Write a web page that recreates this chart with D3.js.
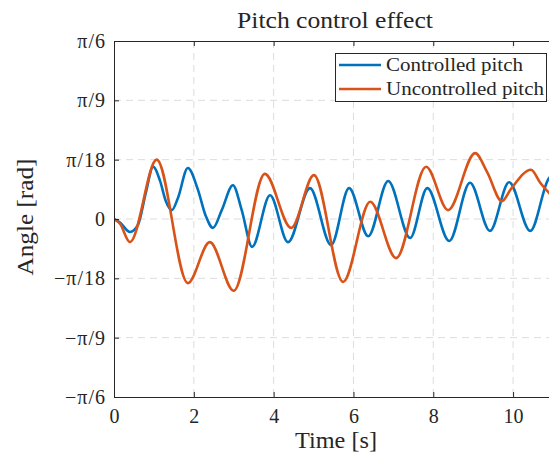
<!DOCTYPE html>
<html>
<head>
<meta charset="utf-8">
<script src="https://cdn.jsdelivr.net/npm/d3@7"></script>
<style>
  html, body { margin: 0; padding: 0; background: #fff; overflow: hidden; }
  svg { display: block; }
  text { font-family: "Liberation Serif", "DejaVu Serif", serif; fill: #262626; }
</style>
</head>
<body>
<svg id="chart" width="549" height="460"></svg>
<script>
// Pitch angle samples (time in s, angle in degrees)
const controlledT = [0, 0.15, 0.4, 0.6, 0.8, 0.98, 1.15, 1.3, 1.45, 1.6, 1.85, 2.1, 2.3, 2.48, 2.7, 2.98, 3.2, 3.46, 3.91, 4.36, 4.91, 5.44, 5.89, 6.37, 6.87, 7.42, 7.85, 8.4, 8.92, 9.42, 9.9, 10.43, 10.9, 11.0];
const controlledDeg = [0, -0.6, -2.2, -1.0, 4.5, 8.8, 6.5, 3.0, 1.5, 3.5, 8.6, 5.0, 0.5, -1.5, 1.5, 5.7, 1.5, -4.7, 4.0, -3.9, 5.2, -4.4, 5.2, -2.9, 6.4, -3.2, 5.2, -3.7, 6.1, -2.0, 6.2, -2.0, 6.9, 7.4];

const uncontrolledT = [0, 0.15, 0.4, 1.07, 1.85, 2.4, 3.0, 3.78, 4.44, 5.01, 5.74, 6.42, 7.07, 7.82, 8.37, 9.05, 9.35, 9.72, 9.95, 10.45, 10.68, 10.9, 11.0];
const uncontrolledDeg = [0, -0.8, -3.9, 10.0, -10.8, -3.9, -12.1, 7.6, -1.5, 7.4, -10.6, 2.9, -6.6, 8.8, 1.5, 11.1, 7.9, 3.0, 5.1, 8.3, 6.1, 4.4, 3.8];

const seriesNames = ["Controlled pitch", "Uncontrolled pitch"];
const seriesColors = ["#0072BD", "#D95319"];

const xTicks = [0, 2, 4, 6, 8, 10];
const yTickValues = [-Math.PI / 6, -Math.PI / 9, -Math.PI / 18, 0, Math.PI / 18, Math.PI / 9, Math.PI / 6];
const yTickLabels = ["\u2212\u03C0/6", "\u2212\u03C0/9", "\u2212\u03C0/18", "0", "\u03C0/18", "\u03C0/9", "\u03C0/6"];

const toRad = d => d * Math.PI / 180;
const controlled = controlledT.map((t, i) => ({ t, v: toRad(controlledDeg[i]) }));
const uncontrolled = uncontrolledT.map((t, i) => ({ t, v: toRad(uncontrolledDeg[i]) }));

const svg = d3.select("#chart");
const plotL = 114, plotR = 553, plotT = 41, plotB = 397;

const x = d3.scaleLinear().domain([0, 11]).range([plotL, plotR]);
const y = d3.scaleLinear().domain([-Math.PI / 6, Math.PI / 6]).range([plotB, plotT]);

// grid
const grid = svg.append("g");
grid.selectAll("line.vx").data(xTicks.slice(1)).join("line")
  .attr("x1", d => x(d)).attr("x2", d => x(d))
  .attr("y1", plotT).attr("y2", plotB)
  .attr("stroke", "#dcdcdc").attr("stroke-width", 1).attr("stroke-dasharray", "7,5");
grid.selectAll("line.hy").data(yTickValues.slice(1, -1)).join("line")
  .attr("x1", plotL).attr("x2", plotR)
  .attr("y1", d => y(d)).attr("y2", d => y(d))
  .attr("stroke", "#dcdcdc").attr("stroke-width", 1).attr("stroke-dasharray", "7,5");

// lines
const line = d3.line().x(d => x(d.t)).y(d => y(d.v)).curve(d3.curveMonotoneX);
svg.append("clipPath").attr("id", "plotclip").append("rect")
  .attr("x", plotL).attr("y", plotT).attr("width", plotR - plotL).attr("height", plotB - plotT);
const plot = svg.append("g").attr("clip-path", "url(#plotclip)");
[controlled, uncontrolled].forEach((data, i) => {
  plot.append("path").datum(data).attr("d", line)
    .attr("fill", "none").attr("stroke", seriesColors[i])
    .attr("stroke-width", 2.6).attr("stroke-linejoin", "round");
});

// axes (box with inward ticks)
const xAxisB = d3.axisBottom(x).tickValues(xTicks).tickSizeInner(-5).tickSizeOuter(0).tickPadding(9);
const gxb = svg.append("g").attr("transform", `translate(0,${plotB})`).call(xAxisB);
const xAxisT = d3.axisTop(x).tickValues(xTicks).tickSizeInner(-5).tickSizeOuter(0).tickFormat("");
const gxt = svg.append("g").attr("transform", `translate(0,${plotT})`).call(xAxisT);
const yAxisL = d3.axisLeft(y).tickValues(yTickValues).tickSizeInner(-5).tickSizeOuter(0).tickPadding(8)
  .tickFormat((d, i) => yTickLabels[i]);
const gyl = svg.append("g").attr("transform", `translate(${plotL},0)`).call(yAxisL);

[gxb, gxt, gyl].forEach(g => {
  g.select(".domain").attr("stroke", "#262626").attr("stroke-width", 1);
  g.selectAll(".tick line").attr("stroke", "#262626").attr("stroke-width", 1);
  g.selectAll(".tick text").attr("font-family", "Liberation Serif, serif")
    .attr("font-size", 20).attr("fill", "#262626");
});
gxb.selectAll(".tick text").attr("dy", "0.85em");
gyl.selectAll(".tick text").attr("letter-spacing", 1);

// title and axis labels
svg.append("text").attr("x", 335).attr("y", 28).attr("text-anchor", "middle")
  .attr("font-size", 23).attr("textLength", 196).attr("lengthAdjust", "spacingAndGlyphs")
  .text("Pitch control effect");
svg.append("text").attr("x", 336).attr("y", 448).attr("text-anchor", "middle")
  .attr("font-size", 23).attr("textLength", 82).attr("lengthAdjust", "spacingAndGlyphs")
  .text("Time [s]");
svg.append("text").attr("transform", "translate(33,217) rotate(-90)").attr("text-anchor", "middle")
  .attr("font-size", 23).attr("textLength", 117).attr("lengthAdjust", "spacingAndGlyphs")
  .text("Angle [rad]");

// legend
const lg = svg.append("g");
lg.append("rect").attr("x", 335.5).attr("y", 53.5).attr("width", 211).attr("height", 48)
  .attr("fill", "#fff").attr("stroke", "#262626").attr("stroke-width", 1);
const legendWidths = [137, 158];
seriesNames.forEach((name, i) => {
  const yy = 65 + i * 24;
  lg.append("line").attr("x1", 339).attr("x2", 381).attr("y1", yy).attr("y2", yy)
    .attr("stroke", seriesColors[i]).attr("stroke-width", 2.6);
  lg.append("text").attr("x", 386).attr("y", yy + 6).attr("font-size", 19)
    .attr("textLength", legendWidths[i]).attr("lengthAdjust", "spacingAndGlyphs").text(name);
});
</script>
</body>
</html>
